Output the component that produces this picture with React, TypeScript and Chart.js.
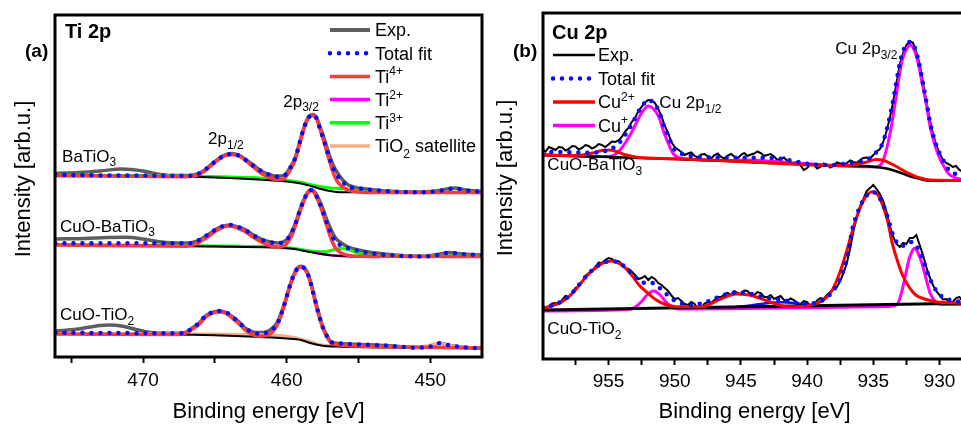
import React, { useEffect, useRef } from "react";
import { Chart, registerables } from "chart.js";

Chart.register(...registerables);

const FONT = "'Liberation Sans', Arial, Helvetica, sans-serif";
Chart.defaults.font.family = FONT;
Chart.defaults.color = "#000";

type Pt = [number, number];
type Seg = { t: string; s?: "sub" | "sup" };

// ================= (a) Ti 2p  — binding energy [eV], intensity [arb.u.] =================
const tiAxisMin = 446.4;
const tiAxisMax = 476.13;

const tiBaExp: Pt[] = [[476.1,183.7],[474.5,184.5],[473,186],[471.5,188],[470,186],[469,183],[468,181.5],[466.8,181.5],[466.2,183],[465.7,187],[465,195.5],[464.4,201.5],[463.8,203.5],[463.2,201],[462.7,196],[462.2,190.5],[461.7,185.5],[461.2,182.5],[460.8,181],[460.4,181],[460.1,182.5],[459.75,189.5],[459.4,199.5],[459.1,214.5],[458.8,229.5],[458.5,239.5],[458.2,242.5],[457.9,239],[457.7,231],[457.4,219],[457.1,205],[456.8,193],[456.5,185],[456.1,177],[455.7,172],[455,169],[454.1,167.5],[452.5,165.5],[451,165],[450,165.5],[449.4,166.5],[448.3,169],[447.5,167],[446.4,165.5]];
const tiBaFit: Pt[] = [[476.1,182],[474,181.7],[471,181.5],[468.5,181.3],[466.8,181.3],[466.2,183],[465.7,187],[465,195.3],[464.4,201],[463.8,203],[463.2,200.5],[462.7,195.3],[462.2,190],[461.7,185.3],[461.2,182],[460.8,180.3],[460.4,180.5],[460.1,182],[459.75,189],[459.4,199],[459.1,214],[458.8,229],[458.5,239],[458.2,242],[457.9,238],[457.7,229],[457.4,216],[457.1,202],[456.8,190],[456.5,182],[456.1,175],[455.7,170.3],[455,168.5],[454.1,167],[452.5,165.5],[451,164.7],[450,165],[449.4,166],[448.3,168.7],[447.5,166.5],[446.4,165.3]];
const tiBaTi4: Pt[] = [[476.1,181.3],[467,180.3],[466.2,182],[465.7,186],[465,194.5],[464.4,200.5],[463.8,202.5],[463.2,200],[462.7,194.5],[462.2,188.5],[461.7,183],[461.2,179.5],[460.8,177.8],[460.4,177.5],[460.1,179.5],[459.75,187],[459.4,197.5],[459.1,213],[458.8,228],[458.5,238.5],[458.2,241.5],[457.9,237.5],[457.7,228.5],[457.4,215],[457.1,200],[456.8,186],[456.5,176],[456.1,170],[455.7,167],[455,165],[454,164.5],[446.4,164.5]];
const tiBaTi3: Pt[] = [[476.1,181.8],[470,181.5],[466,180.6],[463,179.6],[461,178.2],[460,176.6],[459,174.6],[458.3,172.2],[457.6,170.2],[457,169],[456.4,168.6],[455.8,168],[455.2,166.2],[454.4,165],[453,164.8],[446.4,164.8]];
const tiBaBg: Pt[] = [[476.1,181.3],[470,181],[466,180],[462,177.5],[460,175.5],[459,173.5],[458.3,171],[457.6,168],[457,166],[456.2,164.7],[446.4,164.5]];

const tiCuBaExp: Pt[] = [[476.1,118],[474,118.5],[472.5,119.5],[471.2,119.7],[470,118],[469,115.5],[468,114],[466.8,114],[466.3,115.5],[465.9,118.5],[465.4,123],[465,127],[464.5,130.5],[464,132],[463.5,130.5],[462.9,127.5],[462.3,122],[461.7,117.5],[461.1,115],[460.6,114],[460.2,115.5],[459.9,119],[459.6,126.5],[459.3,137.5],[459.05,148.5],[458.8,157.5],[458.55,164.5],[458.3,167.5],[458.05,165],[457.8,159],[457.5,149],[457.2,137],[456.9,127],[456.6,119],[456.2,114],[455.7,110],[455,107],[454.1,104.5],[452.5,102],[450.6,100.8],[449.5,102.5],[448.7,104.5],[447.8,103],[446.4,102]];
const tiCuBaFit: Pt[] = [[476.1,113.7],[472,113.7],[468,113.7],[466.8,113.7],[466.3,115.5],[465.9,118.7],[465.4,123],[465,127],[464.5,130.5],[464,132],[463.5,130.5],[462.9,127],[462.3,121.5],[461.7,117],[461.1,114.5],[460.6,113.7],[460.2,115],[459.9,118.7],[459.6,126],[459.3,137],[459.05,148],[458.8,157],[458.55,164],[458.3,167],[458.05,164],[457.8,157],[457.5,146],[457.2,133.7],[456.9,123],[456.6,115.3],[456.2,111.5],[455.7,108.7],[455,106],[454.1,103.7],[452.5,101.5],[450.6,100.5],[449.5,102],[448.7,104.3],[447.8,103],[446.4,101.7]];
const tiCuBaTi4: Pt[] = [[476.1,112],[467,110.8],[466.3,113],[465.9,116.5],[465.4,121],[465,125.5],[464.5,129.5],[464,131],[463.5,129.5],[462.9,125.5],[462.3,119.5],[461.7,114.5],[461.1,111],[460.6,109.8],[460.2,111],[459.9,115],[459.6,123],[459.3,135],[459.05,146.5],[458.8,156],[458.55,163.5],[458.3,166.5],[458.05,163.5],[457.8,156],[457.5,144.5],[457.2,131],[456.9,118],[456.6,109],[456.2,104],[455.7,101.5],[455,100.8],[446.4,100.5]];
const tiCuBaTi2: Pt[] = [[458.2,104.5],[457.3,102.5],[456.3,101],[455,100.2],[453.5,100]];
const tiCuBaTi3: Pt[] = [[476.1,112.5],[466,111.2],[462,110.6],[460,109.6],[459,107.6],[458,105.6],[457.3,105.2],[456.8,107],[456.3,108.5],[455.8,108],[455.2,104.8],[454.5,102.3],[453,101.2],[446.4,101]];
const tiCuBaBg: Pt[] = [[476.1,112],[470,111.5],[465,110.5],[461,109.5],[459.5,108],[458.5,105.3],[457.8,103.5],[457.1,102],[456,101],[446.4,100.5]];

const tiCuTiExp: Pt[] = [[476.1,26],[474.5,28],[473,31.5],[472.4,32],[471.5,31],[470.5,27.5],[469.5,24.5],[468.5,23.7],[467.5,23.7],[467,25],[466.6,28.7],[466.1,34],[465.7,40.3],[465.2,44.5],[464.7,46],[464.2,44.5],[463.8,40.5],[463.3,35],[462.9,29],[462.5,26],[462.2,24.5],[461.7,24.5],[461.3,26],[461,29],[460.7,33.5],[460.4,43],[460.1,56],[459.8,70.5],[459.5,82.5],[459.25,89],[459,90.8],[458.75,89],[458.5,82.5],[458.25,70.5],[458,56],[457.75,43],[457.5,31],[457.2,21.5],[456.9,15],[456.3,13.5],[455.2,12.7],[452.9,11.3],[451,9.5],[450,10.5],[449.4,13.8],[448.6,11.5],[447.5,9.5],[446.4,8.7]];
const tiCuTiFit: Pt[] = [[476.1,24.3],[472,24],[467.5,23.7],[467,25],[466.6,28.7],[466.1,34],[465.7,40.3],[465.2,44.5],[464.7,46],[464.2,44.5],[463.8,40.3],[463.3,34.5],[462.9,28.7],[462.5,25.5],[462.2,23.7],[461.7,23.5],[461.3,24.7],[461,27.5],[460.7,32],[460.4,42],[460.1,55.3],[459.8,70],[459.5,82],[459.25,88.5],[459,90.3],[458.75,88.5],[458.5,82],[458.25,70],[458,55.3],[457.75,42],[457.5,30.3],[457.2,21],[456.9,14.7],[456.3,13.5],[455.2,12.7],[452.9,11.3],[451,9.3],[450,10.5],[449.4,13.7],[448.6,11.5],[447.5,9.5],[446.4,8.7]];
const tiCuTiTi4: Pt[] = [[476.1,23],[467.5,22.5],[467,24],[466.6,27.5],[466.1,32.5],[465.7,39],[465.2,43.5],[464.7,45],[464.2,43.5],[463.8,39],[463.3,33],[462.9,27],[462.5,23.5],[462.2,21.5],[461.7,21],[461.3,22],[461,25],[460.7,30.5],[460.4,41],[460.1,54.5],[459.8,69.5],[459.5,81.5],[459.25,88],[459,90],[458.75,88],[458.5,81.5],[458.25,69.5],[458,54.5],[457.75,41],[457.5,29.5],[457.2,20],[456.9,14],[456.3,12],[455,11],[446.4,9]];
const tiCuTiSat: Pt[] = [[476.1,23.6],[468,23.1],[465,22.9],[462,22.6],[460.5,21.6],[459.5,19.6],[458.5,16],[457.7,12.6],[457,11.2],[452,10],[450.3,11],[449.4,13.6],[448.6,11.5],[447.5,9.6],[446.4,9]];
const tiCuTiBg: Pt[] = [[476.1,23],[468,22.5],[462.2,20.3],[460,18.5],[459,17],[458.3,13.7],[457.5,11.3],[456.5,10.5],[451,9.3],[446.4,8.7]];

// ================= (b) Cu 2p =================
const cuAxisMin = 928;
const cuAxisMax = 959.95;

const cuBaExp: Pt[] = [[960,210],[959.75,207.5],[959.5,212],[959.25,210.5],[959,209],[958.75,212],[958.5,211.5],[958.25,208.5],[958,210],[957.75,213],[957.5,212.5],[957.25,209.5],[957,211],[956.75,214],[956.5,213],[956.25,210.5],[956,212],[955.75,215],[955.5,214],[955.25,212],[955,214.5],[954.75,217.5],[954.5,217],[954.25,218.5],[954,222],[953.75,227.5],[953.5,231],[953.25,237],[953,241],[952.75,248],[952.5,252],[952.25,256.5],[952,259],[951.75,258.5],[951.5,256],[951.25,250],[951,243],[950.75,233],[950.5,226],[950.25,217],[950,212],[949.75,209.5],[949.5,207],[949.25,204],[949,205.5],[948.75,206.5],[948.5,203],[948.25,201.5],[948,204.5],[947.75,205],[947.5,202.5],[947.25,200.5],[947,204],[946.75,205.5],[946.5,202],[946.25,200.5],[946,203.5],[945.75,205],[945.5,202.5],[945.25,200.5],[945,204],[944.75,206],[944.5,203],[944.25,204.5],[944,205.5],[943.75,207.5],[943.5,206],[943.25,203],[943,204],[942.75,205],[942.5,202.5],[942.25,199],[942,200],[941.75,201.5],[941.5,198],[941.25,195],[941,196],[940.75,197],[940.5,193.5],[940.25,189],[940,191],[939.75,195],[939.5,194.5],[939.25,190.5],[939,192],[938.75,195.5],[938.5,194],[938.25,191.5],[938,193],[937.75,196.5],[937.5,195.5],[937.25,193.5],[937,196],[936.75,198.5],[936.5,197],[936.25,196],[936,199],[935.75,201],[935.5,201.5],[935.25,200.5],[935,204],[934.75,207.5],[934.5,210],[934.25,217],[934,228],[933.75,241],[933.5,257],[933.25,276],[933,295],[932.75,306],[932.5,314],[932.25,318],[932,316],[931.75,307],[931.5,295],[931.25,277],[931,258],[930.75,240],[930.5,226],[930.25,214],[930,206],[929.75,199],[929.5,196],[929.25,194.5],[929,192],[928.75,193],[928.5,189],[928.25,187.5],[928,186]];
const cuBaFit: Pt[] = [[960,207.3],[958,206.7],[956.2,206.3],[955,209],[954.5,212.5],[954,219],[953.6,227],[953.2,235.7],[952.8,246],[952.4,254],[952,259],[951.6,256],[951.2,248],[950.8,232.3],[950.4,220],[950.1,210.7],[949.6,206],[949.2,204],[947.4,201.7],[944.9,201.3],[942.4,200.7],[941,198],[939.9,195],[938.1,194],[937,195.5],[936.1,197.3],[935.5,199.5],[935.1,202.3],[934.7,208],[934.3,215.7],[934,229],[933.7,245.7],[933.4,266],[933.1,289],[932.85,304],[932.6,312.3],[932.2,317.3],[931.8,309],[931.55,296],[931.3,279],[931,258],[930.7,235.7],[930.35,218],[930,205.7],[929.6,196],[929.3,189],[928.8,185],[928,181.5]];
const cuBaCu2: Pt[] = [[960,204.3],[958,203.5],[957,204],[956.2,206],[955.5,208.5],[955,209],[954.4,207.5],[953.8,204.5],[953,202],[950,200.3],[946,198],[942,195.5],[938,193.5],[936.5,194],[935.5,197],[934.8,199.5],[934.3,199],[933.7,195.5],[933,190.5],[932.3,185.5],[931.6,181.5],[930.7,179],[928,178.5]];
const cuBaCu1: Pt[] = [[960,204],[956,202.5],[955,202.5],[954.5,204.5],[954,211],[953.6,219],[953.2,228],[952.8,239],[952.4,248],[952,253],[951.6,250],[951.2,242],[950.8,226],[950.4,213],[950.1,205],[949.6,201],[949,200],[946,198.5],[944.5,199],[943,198],[941,196],[938,193.5],[935.5,192.3],[934.7,192.5],[934.3,197],[934,210],[933.7,228],[933.4,252],[933.1,278],[932.85,297],[932.6,307],[932.2,314],[931.8,305],[931.55,292],[931.3,275],[931,255],[930.7,232],[930.35,214],[930,201],[929.6,191],[929.3,185],[928.8,181],[928,179]];
const cuBaBg: Pt[] = [[960,204],[955,202],[952,200.7],[946,198],[942.4,195.7],[938,193.5],[935.1,192.3],[934,190.5],[933.1,187],[932.3,183],[931.6,180.5],[930.7,178.3],[928,178.3]];

const cuTiExp: Pt[] = [[960,54],[959.75,50.5],[959.5,52],[959.25,55.5],[959,56],[958.75,55],[958.5,59],[958.25,63],[958,62],[957.75,66],[957.5,71],[957.25,73],[957,77],[956.75,83],[956.5,86],[956.25,88],[956,92],[955.75,96.5],[955.5,96],[955.25,99],[955,101],[954.75,100],[954.5,97],[954.25,98],[954,95],[953.75,91],[953.5,90],[953.25,87.5],[953,84],[952.75,80],[952.5,81],[952.25,83],[952,79],[951.75,82],[951.5,80],[951.25,76],[951,74],[950.75,71],[950.5,68],[950.25,63.5],[950,60],[949.75,61],[949.5,58],[949.25,55],[949,54],[948.75,57],[948.5,55],[948.25,50],[948,51],[947.75,55.5],[947.5,57],[947.25,56],[947,59],[946.75,62],[946.5,62],[946.25,64.5],[946,66],[945.75,64],[945.5,68],[945.25,66],[945,65],[944.75,68.5],[944.5,68],[944.25,64],[944,64],[943.75,67],[943.5,66],[943.25,62],[943,62],[942.75,64],[942.5,60],[942.25,61.5],[942,63],[941.75,59],[941.5,58],[941.25,60.5],[941,59],[940.75,56],[940.5,55],[940.25,58],[940,57],[939.75,53],[939.5,54],[939.25,58.5],[939,61],[938.75,60],[938.5,64],[938.25,67],[938,70],[937.75,72],[937.5,78],[937.25,86],[937,96],[936.75,111],[936.5,128],[936.25,142],[936,153],[935.75,160],[935.5,168],[935.25,171],[935,174],[934.75,170],[934.5,165],[934.25,158],[934,147],[933.75,133],[933.5,122],[933.25,115],[933,112],[932.75,116],[932.5,115],[932.25,121],[932,121],[931.75,124],[931.5,114],[931.25,104],[931,92],[930.75,82],[930.5,74],[930.25,68],[930,64],[929.75,59.5],[929.5,60],[929.25,57],[929,57],[928.75,61],[928.5,62],[928.25,57.5],[928,58]];
const cuTiFit: Pt[] = [[960,50.7],[959.2,54],[958.5,58],[957.7,66.7],[957,78],[956.5,85.5],[956,91.3],[955.4,96.3],[954.8,98],[954.2,96],[953.7,91.3],[953.2,85],[952.7,78.5],[952.2,76],[951.7,76],[951.2,71.5],[950.7,65.7],[950.2,60],[949.7,56.7],[949.2,54.8],[948.7,54],[948,55.5],[947.4,58],[946.6,62.5],[945.9,65.7],[945.1,66.3],[944.4,65.7],[943.6,63],[942.9,60.7],[941.9,59],[941.2,57.5],[940.6,55.7],[939.9,55.3],[939.4,56],[938.8,59],[938.3,64],[937.8,73],[937.3,87.3],[936.9,106],[936.6,129],[936.2,146],[935.8,158],[935.4,165],[935.1,167.3],[934.7,164],[934.3,155.7],[933.9,141],[933.6,127.3],[933.2,116],[932.8,113],[932.45,116],[932.1,117],[931.7,112],[931.3,100.7],[930.9,86],[930.5,74],[930.1,66],[929.8,62.3],[929.2,59],[928.4,57.3],[928,57]];
const cuTiCu2: Pt[] = [[960,50.7],[959.2,53.5],[958.5,57.3],[957.7,66],[957,77.3],[956.5,85],[956,90.7],[955.4,96],[954.8,98],[954.2,95.5],[953.7,90.7],[953.2,83],[952.7,74],[952,65.5],[951.4,59],[950.7,54.5],[949.9,52.3],[948,52.3],[947.3,55],[946.7,59],[946,63],[945.4,65],[944.4,64],[943.6,61],[942.9,57.3],[942.1,54],[941.4,52.3],[940.5,52.6],[939.9,53.5],[939.2,56],[938.6,60.7],[938.1,69],[937.6,84],[937.1,104],[936.6,127.3],[936.2,144],[935.8,157.3],[935.4,165],[935.1,167.3],[934.7,165],[934.3,154],[933.9,137],[933.6,117.3],[933.2,99],[932.8,84],[932.3,72],[931.8,64],[931,59.5],[930.3,57.3],[928,55.7]];
const cuTiCu1: Pt[] = [[960,48],[953.5,49.4],[953,51.8],[952.5,57.5],[952.1,64],[951.6,68],[951.1,64],[950.7,57.5],[950.2,52],[949.7,50],[934,52.5],[933.2,54.5],[932.9,65],[932.6,82],[932.3,100],[932,109.5],[931.9,110.8],[931.6,105.5],[931.3,94.5],[931,79.5],[930.7,65.5],[930.3,57],[929.9,54.5],[928,54.7]];
const cuTiSat: Pt[] = [[947,51.3],[945.5,51.8],[944.9,52.4],[943.8,54.4],[942.8,56.2],[941.9,56.8],[941,56],[940.2,54],[939.4,52.5],[938.5,52],[937,52.3]];
const cuTiBg: Pt[] = [[960,49],[928,55.7]];

// ================= helpers =================
function line(data: Pt[], color: string, width: number, order: number, extra: any = {}) {
  return {
    data: data.map(([x, y]) => ({ x, y })),
    borderColor: color,
    backgroundColor: color,
    borderWidth: width,
    pointRadius: 0,
    pointHoverRadius: 0,
    fill: false,
    order,
    cubicInterpolationMode: "monotone",
    ...extra,
  };
}
const dotted = { borderDash: [0, 9], borderCapStyle: "round" };
const jagged = { cubicInterpolationMode: "default", tension: 0 };

const C = {
  gray: "#5e5e5e",
  blue: "#0a0aff",
  red: "#ff3a3a",
  red2: "#ff0000",
  magenta: "#ff00ff",
  green: "#00ff00",
  peach: "#f6ad84",
  black: "#000000",
};

function drawRich(ctx: CanvasRenderingContext2D, segs: Seg[], x: number, y: number, size: number, bold: boolean) {
  let cx = x;
  for (const sg of segs) {
    const fs = sg.s ? Math.round(size * 0.68) : size;
    ctx.font = `${bold ? "bold " : ""}${fs}px ${FONT}`;
    const dy = sg.s === "sub" ? size * 0.28 : sg.s === "sup" ? -size * 0.42 : 0;
    ctx.fillText(sg.t, cx, y + dy);
    cx += ctx.measureText(sg.t).width;
  }
}

function decor(cfg: any) {
  return {
    id: "decor",
    afterDraw(chart: any) {
      const { ctx, chartArea: a, scales } = chart;
      ctx.save();
      ctx.strokeStyle = "#000";
      ctx.lineWidth = 3;
      ctx.strokeRect(a.left, a.top, a.right - a.left, a.bottom - a.top);
      ctx.fillStyle = "#000";
      ctx.textAlign = "left";
      ctx.textBaseline = "alphabetic";
      for (const t of cfg.labels) {
        drawRich(ctx, t.segs, scales.x.getPixelForValue(t.x), scales.y.getPixelForValue(t.y), 17, false);
      }
      for (const t of cfg.panel) drawRich(ctx, t.segs, a.left + t.dx, a.top + t.dy, t.size, true);
      const L = cfg.legend;
      L.items.forEach((it: any, i: number) => {
        const y = a.top + L.top + i * L.gap;
        ctx.save();
        ctx.beginPath();
        ctx.moveTo(a.left + L.x1, y);
        ctx.lineTo(a.left + L.x2, y);
        ctx.strokeStyle = it.color;
        ctx.lineWidth = it.width;
        if (it.dotted) {
          ctx.setLineDash([0, 9]);
          ctx.lineCap = "round";
        }
        ctx.stroke();
        ctx.restore();
        drawRich(ctx, it.segs, a.left + L.tx, y + L.size * 0.36, L.size, false);
      });
      ctx.save();
      ctx.translate(cfg.yTitle.x, cfg.yTitle.y);
      ctx.rotate(-Math.PI / 2);
      ctx.font = `22px ${FONT}`;
      ctx.textAlign = "center";
      ctx.textBaseline = "middle";
      ctx.fillText("Intensity [arb.u.]", 0, 0);
      ctx.restore();
      ctx.restore();
    },
  };
}

function xScale(min: number, max: number, step: number, every: number, height: number, pad: number) {
  return {
    type: "linear",
    reverse: true,
    min,
    max,
    afterFit: (s: any) => {
      s.height = height;
    },
    ticks: {
      stepSize: step,
      includeBounds: false,
      autoSkip: false,
      maxRotation: 0,
      minRotation: 0,
      padding: pad,
      color: "#000",
      font: { size: 19 },
      callback: (v: any) => (Math.abs(v % every) < 1e-6 ? String(v) : ""),
    },
    grid: { display: true, drawOnChartArea: false, drawTicks: true, tickLength: 6, tickWidth: 2, tickColor: "#000" },
    border: { display: false },
    title: { display: true, text: "Binding energy [eV]", color: "#000", font: { size: 22 }, padding: { top: 0, bottom: 1 } },
  };
}

function makeTi() {
  return {
    type: "line",
    data: {
      datasets: [
        line(tiBaFit, C.blue, 4.5, 0, dotted),
        line(tiBaTi4, C.red, 3.5, 1),
        line(tiBaBg, C.black, 2, 2),
        line(tiBaTi3, C.green, 3, 4),
        line(tiBaExp, C.gray, 3.5, 6),
        line(tiCuBaFit, C.blue, 4.5, 0, dotted),
        line(tiCuBaTi4, C.red, 3.5, 1),
        line(tiCuBaBg, C.black, 2, 2),
        line(tiCuBaTi2, C.magenta, 2.5, 3),
        line(tiCuBaTi3, C.green, 3, 4),
        line(tiCuBaExp, C.gray, 3.5, 6),
        line(tiCuTiFit, C.blue, 4.5, 0, dotted),
        line(tiCuTiTi4, C.red, 3.5, 1),
        line(tiCuTiBg, C.black, 2, 2),
        line(tiCuTiSat, C.peach, 3, 5),
        line(tiCuTiExp, C.gray, 3.5, 6),
      ],
    },
    options: {
      responsive: false,
      animation: false,
      events: [],
      layout: { padding: { left: 55, top: 15, right: 4, bottom: 0 } },
      plugins: { legend: { display: false }, tooltip: { enabled: false } },
      scales: {
        x: xScale(tiAxisMin, tiAxisMax, 5, 10, 69, 6),
        y: { display: false, min: 0, max: 342 },
      },
    },
    plugins: [
      decor({
        yTitle: { x: 23.5, y: 179 },
        labels: [
          { x: 475.64, y: 195.5, segs: [{ t: "BaTiO" }, { t: "3", s: "sub" }] },
          { x: 465.47, y: 213, segs: [{ t: "2p" }, { t: "1/2", s: "sub" }] },
          { x: 460.24, y: 250.3, segs: [{ t: "2p" }, { t: "3/2", s: "sub" }] },
          { x: 475.78, y: 125.5, segs: [{ t: "CuO-BaTiO" }, { t: "3", s: "sub" }] },
          { x: 475.78, y: 37, segs: [{ t: "CuO-TiO" }, { t: "2", s: "sub" }] },
        ],
        panel: [
          { dx: -30, dy: 42, size: 19, segs: [{ t: "(a)" }] },
          { dx: 10, dy: 23, size: 20, segs: [{ t: "Ti 2p" }] },
        ],
        legend: {
          x1: 275, x2: 315, tx: 320, top: 15, gap: 23.2, size: 18,
          items: [
            { color: C.gray, width: 4, segs: [{ t: "Exp." }] },
            { color: C.blue, width: 4.5, dotted: true, segs: [{ t: "Total fit" }] },
            { color: C.red, width: 3.5, segs: [{ t: "Ti" }, { t: "4+", s: "sup" }] },
            { color: C.magenta, width: 3.5, segs: [{ t: "Ti" }, { t: "2+", s: "sup" }] },
            { color: C.green, width: 3.5, segs: [{ t: "Ti" }, { t: "3+", s: "sup" }] },
            { color: C.peach, width: 3.5, segs: [{ t: "TiO" }, { t: "2", s: "sub" }, { t: " satellite" }] },
          ],
        },
      }),
    ],
  };
}

function makeCu() {
  return {
    type: "line",
    data: {
      datasets: [
        line(cuBaFit, C.blue, 4.5, 0, dotted),
        line(cuBaCu2, C.red2, 3, 1),
        line(cuBaBg, C.black, 2.5, 2),
        line(cuBaCu1, C.magenta, 3, 3),
        line(cuBaExp, C.black, 2, 5, jagged),
        line(cuTiFit, C.blue, 4.5, 0, dotted),
        line(cuTiCu2, C.red2, 3, 1),
        line(cuTiBg, C.black, 3, 2),
        line(cuTiCu1, C.magenta, 3, 3),
        line(cuTiSat, C.blue, 2.5, 4),
        line(cuTiExp, C.black, 2, 5, jagged),
      ],
    },
    options: {
      responsive: false,
      animation: false,
      events: [],
      layout: { padding: { left: 57, top: 13, right: 0, bottom: 0 } },
      plugins: { legend: { display: false }, tooltip: { enabled: false } },
      scales: {
        x: xScale(cuAxisMin, cuAxisMax, 2.5, 5, 67, 5),
        y: { display: false, min: 0, max: 346 },
      },
    },
    plugins: [
      decor({
        yTitle: { x: 20, y: 178 },
        labels: [
          { x: 937.87, y: 305, segs: [{ t: "Cu 2p" }, { t: "3/2", s: "sub" }] },
          { x: 951.16, y: 250.7, segs: [{ t: "Cu 2p" }, { t: "1/2", s: "sub" }] },
          { x: 959.62, y: 189, segs: [{ t: "CuO-BaTiO" }, { t: "3", s: "sub" }] },
          { x: 959.62, y: 25, segs: [{ t: "CuO-TiO" }, { t: "2", s: "sub" }] },
        ],
        panel: [
          { dx: -30, dy: 44, size: 19, segs: [{ t: "(b)" }] },
          { dx: 9, dy: 26, size: 20, segs: [{ t: "Cu 2p" }] },
        ],
        legend: {
          x1: 10, x2: 52, tx: 55, top: 42, gap: 23.5, size: 18,
          items: [
            { color: C.black, width: 2.5, segs: [{ t: "Exp." }] },
            { color: C.blue, width: 4.5, dotted: true, segs: [{ t: "Total fit" }] },
            { color: C.red2, width: 3.5, segs: [{ t: "Cu" }, { t: "2+", s: "sup" }] },
            { color: C.magenta, width: 3.5, segs: [{ t: "Cu" }, { t: "+", s: "sup" }] },
          ],
        },
      }),
    ],
  };
}

function Panel({ left, width, make }: { left: number; width: number; make: () => any }) {
  const ref = useRef<HTMLCanvasElement>(null);
  useEffect(() => {
    const chart = new Chart(ref.current as HTMLCanvasElement, make());
    return () => chart.destroy();
  }, []);
  return (
    <canvas
      ref={ref}
      width={width}
      height={426}
      style={{ position: "absolute", left, top: 0, width, height: 426, display: "block" }}
    />
  );
}

export default function App() {
  return (
    <div
      style={{
        position: "fixed",
        left: 0,
        top: 0,
        width: 961,
        height: 426,
        overflow: "hidden",
        background: "#fff",
      }}
    >
      <Panel left={0} width={486} make={makeTi} />
      <Panel left={486} width={480} make={makeCu} />
    </div>
  );
}
